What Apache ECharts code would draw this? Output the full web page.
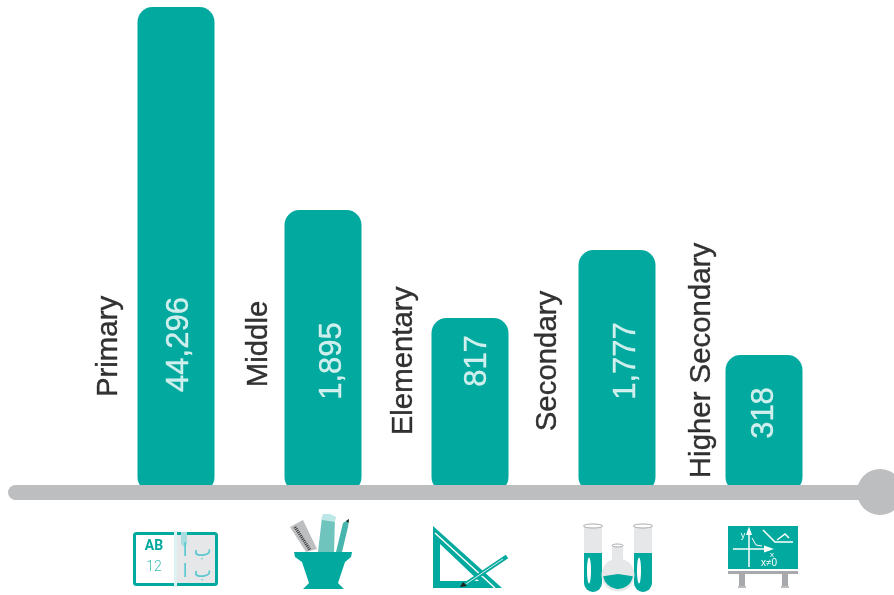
<!DOCTYPE html>
<html><head><meta charset="utf-8">
<style>html,body{margin:0;padding:0;background:#fff}#c{width:894px;height:595px}</style>
<script src="https://cdn.jsdelivr.net/npm/echarts@6/dist/echarts.min.js"></script>
</head><body><div id="c"></div>
<script>
const categories = ["Primary","Middle","Elementary","Secondary","Higher Secondary"];
const schoolCounts = [44296,1895,817,1777,318];
// The bars in the source are pictorial, not to scale: heights
const drawnHeights = [485,282,174,242,137];
// Where along each bar the rotated texts are centred (same units as drawnHeights)
const valueTextAt = [147.5,131,131,131,79];
const nameTextAt = [145.5,148,131,131,131.5];
const valueTextOffset = [3.6,9.5,7.5,9,0];
const nameTextOffset = [-67,-64,-66,-69,-62];

const TEAL="#02A99E", GRAY="#BDBEC0", LIGHT="#E6E7E8", MINT="#A8DDE0", FONT='"Liberation Sans",Arial,sans-serif';
const poly=(pts,fill,z=10)=>({type:'polygon',z,silent:true,shape:{points:pts,smooth:0},style:{fill}});
const line=(pts,stroke,w=1.5,extra={})=>({type:'polyline',z:11,silent:true,shape:{points:pts},style:{stroke,lineWidth:w,fill:null,...extra}});
const rect=(x,y,w,h,fill,r=0,z=10)=>({type:'rect',z,silent:true,shape:{x,y,width:w,height:h,r},style:{fill}});
const txt=(x,y,text,fill,size,weight='normal',font=FONT)=>({type:'text',z:12,silent:true,x,y,style:{text,fill,font:`${weight} ${size}px ${font}`,align:'center',verticalAlign:'middle'}});
const ell=(cx,cy,rx,ry,fill,stroke,z=11)=>({type:'ellipse',z,silent:true,shape:{cx,cy,rx,ry},style:{fill,stroke,lineWidth:stroke?1:0}});

const baseline=[
  rect(8,485,865,15,GRAY,7.5,8),
  {type:'circle',z:8,silent:true,shape:{cx:880,cy:492,r:23},style:{fill:GRAY}}
];
const book=[
  rect(175,533,41,52,LIGHT),
  {type:'rect',z:11,silent:true,shape:{x:134.5,y:533.5,width:82,height:51,r:2},style:{fill:null,stroke:TEAL,lineWidth:3}},
  rect(174,531,3,56,"#DDF1F2",0,12),
  poly([[181,532],[187,532],[187,544],[184,547],[181,544]],MINT,12),
  txt(154,546,"AB",TEAL,14,'bold',"Roboto,"+FONT),
  txt(154,567,"12","#3FBDB5",14,'300',"Roboto,"+FONT),
  txt(197,551,"ب ا","#5CC8CF",19,'normal','"DejaVu Sans"'),
  txt(197,572,"ب ا","#5CC8CF",19,'normal','"DejaVu Sans"')
];
const pot=[
  poly([[290,527],[303,520],[317,549],[306,552]],GRAY),
  line([[295,527],[310,550]],"#333",3,{lineDash:[1,1]}),
  poly([[322,517],[335,518],[334,552],[318,552]],"#6FC4BE"),
  poly([[322,517],[323,514],[330,514],[336,517],[335,522],[322,520]],"#BDE6E6",11),
  poly([[343,523],[349,519],[348,527],[342,552],[336,552]],"#45B5AD"),
  poly([[346,521],[349,519],[348.5,523]],"#222",11),
  poly([[294,552],[352,552],[351,557],[345,562],[338,583],[344,589],[303,589],[309,583],[302,562],[295,557]],TEAL,11)
];
const setSquare=[
  poly([[433,526],[502,588],[433,588]],TEAL),
  poly([[440,544],[479,581],[440,581]],"#fff",11),
  line([[435,533],[495,588]],"#fff",1.5),
  line([[466,584],[507,556.5]],TEAL,4.5),
  line([[466,584],[503,559]],"#DCEFEE",1),
  poly([[460,587],[463,582],[467,586]],"#222",12)
];
const tube=(x,w)=>[
  rect(x,527,w,28,LIGHT),
  {type:'rect',z:10,silent:true,shape:{x,y:553,width:w,height:39,r:[0,0,w/2,w/2]},style:{fill:TEAL}},
  ell(x+w/2,526,w/2+0.5,2,"#fff","#A7A9AC",12),
  ell(x+5,570.5,2,13,"#fff",null,12)
];
const flask=[
  rect(612,546,11,20,LIGHT),
  ell(617.5,545.5,5.5,1.5,"#fff","#A7A9AC",12),
  {type:'circle',z:10,silent:true,shape:{cx:618,cy:575,r:16.5},style:{fill:LIGHT}},
  {type:'sector',z:11,silent:true,shape:{cx:618,cy:574,r:15,r0:0,startAngle:0.15,endAngle:Math.PI-0.15},style:{fill:TEAL}}
];
const board=[
  rect(728,526,70,43,TEAL),
  rect(728,571,70,3,"#A7A9AC"),
  rect(739,574,6,12,"#A7A9AC"),rect(782,574,6,12,"#A7A9AC"),
  rect(738,586,8,2,"#BCBEC0"),rect(781,586,8,2,"#BCBEC0"),
  line([[749,531],[749,567]],"#fff",1.5),
  poly([[749,526.5],[746,535],[752,535]],"#fff",12),
  line([[733,549],[769,549]],"#fff",1.5),
  poly([[774,549],[764,545.5],[764,552.5]],"#fff",12),
  line([[752,538],[756,545],[762,546]],"#fff",1),
  line([[763,530],[775,542],[793,542]],"#fff",1.5),
  line([[777,540],[785,534],[789,538]],"#fff",1.5),
  txt(743,536,"y","#fff",9),
  txt(772,554.5,"x","#fff",8),
  txt(769,563,"x≠0","#fff",10)
];

const chart=echarts.init(document.getElementById('c'),null,{renderer:'canvas'});
const textLabel=(fmt,color,size)=>({show:true,position:'inside',rotate:90,color,fontFamily:FONT,fontSize:size,formatter:fmt,align:'center',verticalAlign:'middle',textBorderColor:color,textBorderWidth:0.35});
chart.setOption({
  animation:false,
  backgroundColor:'#fff',
  grid:{left:102.5,width:735,top:0,height:492},
  xAxis:{type:'category',data:categories,show:false},
  yAxis:{type:'value',min:0,max:492,show:false},
  series:[
    {type:'bar',name:'Schools',data:drawnHeights,barWidth:77,z:2,
      itemStyle:{color:TEAL,borderRadius:15}},
    {type:'scatter',name:'counts',z:5,symbolSize:1,silent:true,itemStyle:{color:'rgba(0,0,0,0)'},
      data:valueTextAt.map((v,i)=>({value:v,label:{offset:[0,valueTextOffset[i]]}})),
      label:textLabel(p=>schoolCounts[p.dataIndex].toLocaleString('en-US'),'#fff',31)},
    {type:'scatter',name:'names',z:5,symbolSize:1,silent:true,itemStyle:{color:'rgba(0,0,0,0)'},
      data:nameTextAt.map((v,i)=>({value:v,label:{offset:[0,nameTextOffset[i]]}})),
      label:textLabel(p=>categories[p.dataIndex],'#000',29.4)}
  ],
  graphic:{elements:[...baseline,...book,...pot,...setSquare,...tube(584,18),...tube(634,18),...flask,...board]}
});
</script></body></html>
